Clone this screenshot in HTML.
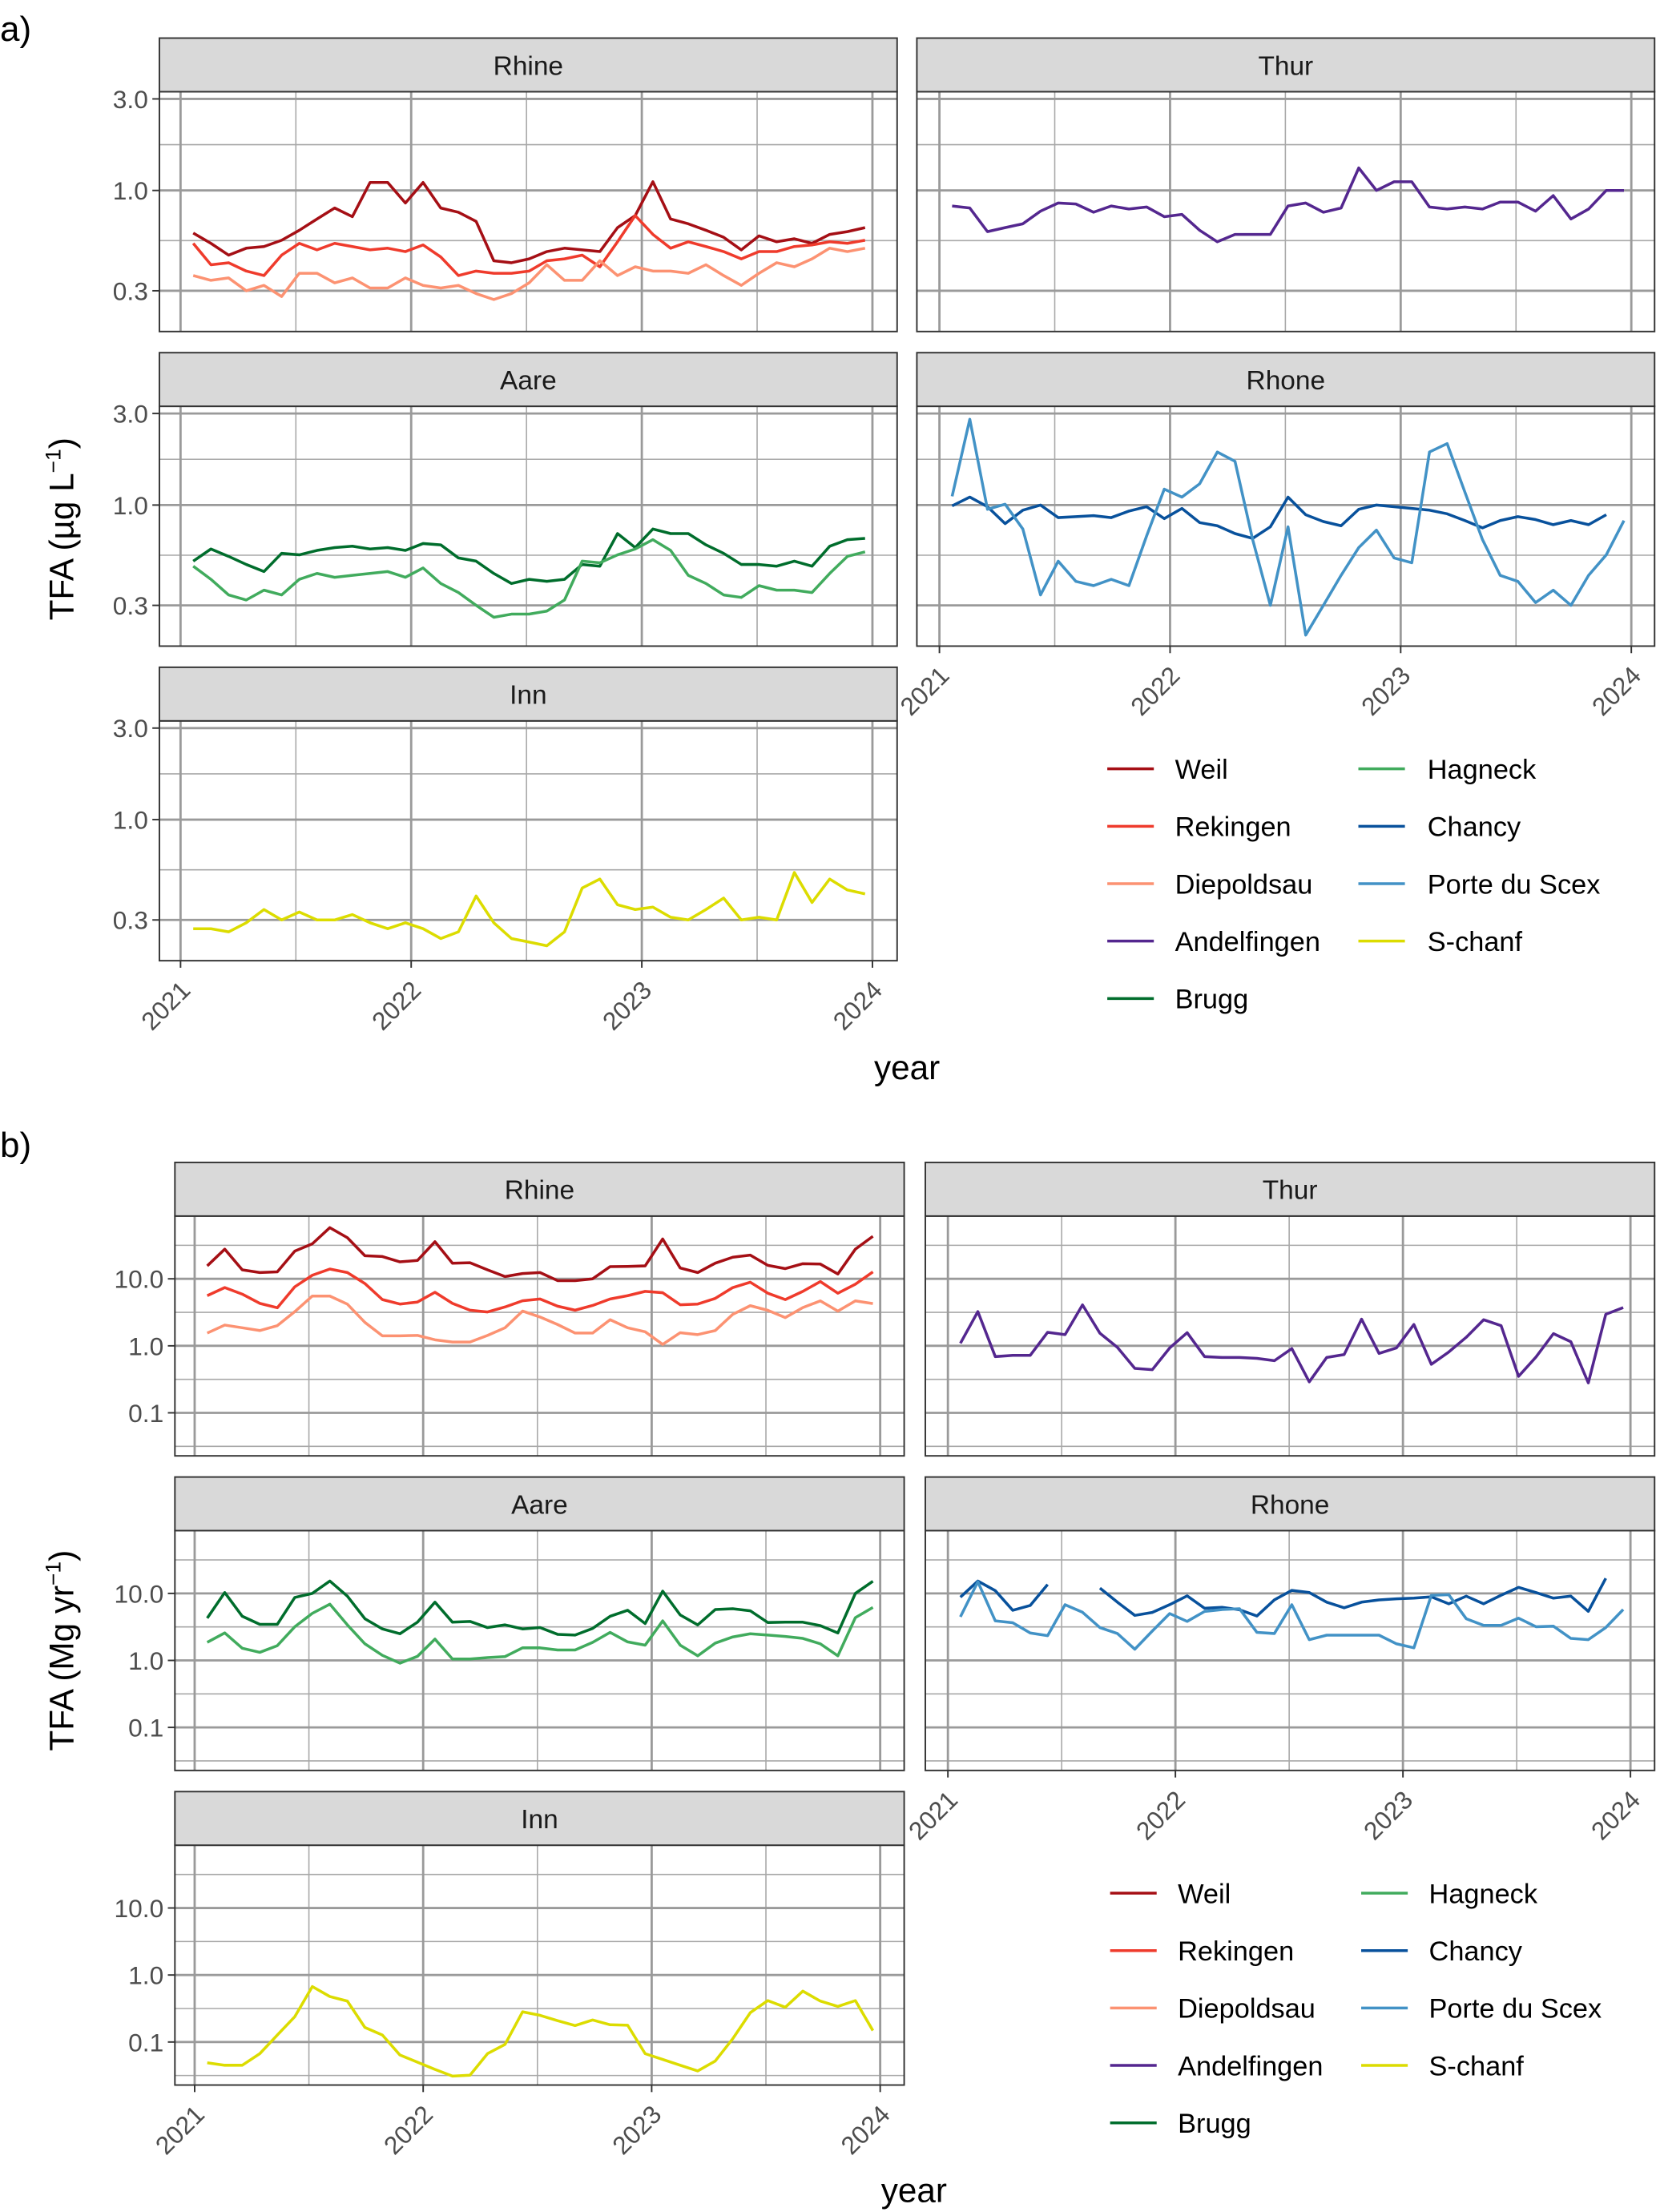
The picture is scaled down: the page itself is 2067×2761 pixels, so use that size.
<!DOCTYPE html>
<html>
<head>
<meta charset="utf-8">
<style>
html,body{margin:0;padding:0;background:#fff;}
svg{display:block;}
text{font-family:"Liberation Sans",Arial,sans-serif;}
</style>
</head>
<body>
<svg id="chart" xmlns="http://www.w3.org/2000/svg" width="2067" height="2761" viewBox="0 0 1174 1568" preserveAspectRatio="none">
<rect x="0" y="0" width="1174" height="1568" fill="#fff"/>
</svg>
<script>
// ---------- data (4-weekly samples, 39 per series) ----------
const yearTicks = [2021, 2022, 2023, 2024];
const yearLabels = ["2021", "2022", "2023", "2024"];
const concTicks = [0.3, 1, 3];
const concTickLabels = ["0.3", "1.0", "3.0"];
const loadTicks = [0.1, 1, 10];
const loadTickLabels = ["0.1", "1.0", "10.0"];

// a) concentration, µg/L
const concWeil = [0.60,0.53,0.46,0.50,0.51,0.55,0.62,0.71,0.81,0.73,1.10,1.10,0.86,1.10,0.81,0.77,0.69,0.43,0.42,0.44,0.48,0.50,0.49,0.48,0.64,0.74,1.11,0.71,0.67,0.62,0.57,0.49,0.58,0.54,0.56,0.53,0.59,0.61,0.64];
const concRekingen = [0.53,0.41,0.42,0.38,0.36,0.46,0.53,0.49,0.53,0.51,0.49,0.50,0.48,0.52,0.45,0.36,0.38,0.37,0.37,0.38,0.43,0.44,0.46,0.40,0.54,0.74,0.59,0.50,0.54,0.51,0.48,0.44,0.48,0.48,0.51,0.52,0.54,0.53,0.55];
const concDiepoldsau = [0.36,0.34,0.35,0.30,0.32,0.28,0.37,0.37,0.33,0.35,0.31,0.31,0.35,0.32,0.31,0.32,0.29,0.27,0.29,0.33,0.41,0.34,0.34,0.43,0.36,0.40,0.38,0.38,0.37,0.41,0.36,0.32,0.37,0.42,0.40,0.44,0.50,0.48,0.50];
const concAndelfingen = [0.83,0.81,0.61,0.64,0.67,0.78,0.86,0.85,0.77,0.83,0.80,0.82,0.73,0.75,0.62,0.54,0.59,0.59,0.59,0.83,0.86,0.77,0.81,1.31,1.00,1.11,1.11,0.82,0.80,0.82,0.80,0.87,0.87,0.78,0.94,0.71,0.80,1.00,1.00];
const concBrugg = [0.51,0.59,0.54,0.49,0.45,0.56,0.55,0.58,0.60,0.61,0.59,0.60,0.58,0.63,0.62,0.53,0.51,0.44,0.39,0.41,0.40,0.41,0.49,0.48,0.71,0.60,0.75,0.71,0.71,0.62,0.56,0.49,0.49,0.48,0.51,0.48,0.61,0.66,0.67];
const concHagneck = [0.48,0.41,0.34,0.32,0.36,0.34,0.41,0.44,0.42,0.43,0.44,0.45,0.42,0.47,0.39,0.35,0.30,0.26,0.27,0.27,0.28,0.32,0.51,0.50,0.55,0.59,0.66,0.58,0.43,0.39,0.34,0.33,0.38,0.36,0.36,0.35,0.44,0.54,0.57];
const concChancy = [0.99,1.10,0.98,0.80,0.94,1.00,0.86,0.87,0.88,0.86,0.93,0.98,0.85,0.96,0.81,0.78,0.71,0.67,0.77,1.10,0.89,0.82,0.78,0.95,1.00,0.98,0.96,0.94,0.90,0.83,0.76,0.83,0.87,0.84,0.79,0.83,0.79,0.89,null];
const concPorteDuScex = [1.11,2.80,0.95,1.01,0.75,0.34,0.51,0.40,0.38,0.41,0.38,0.69,1.21,1.10,1.29,1.89,1.69,0.66,0.30,0.77,0.21,0.30,0.43,0.60,0.74,0.53,0.50,1.89,2.09,1.17,0.66,0.43,0.40,0.31,0.36,0.30,0.43,0.55,0.83];
const concSchanf = [0.27,0.27,0.26,0.29,0.34,0.30,0.33,0.30,0.30,0.32,0.29,0.27,0.29,0.27,0.24,0.26,0.40,0.29,0.24,0.23,0.22,0.26,0.44,0.49,0.36,0.34,0.35,0.31,0.30,0.34,0.39,0.30,0.31,0.30,0.53,0.37,0.49,0.43,0.41];

// b) load, Mg/yr
const loadWeil = [15.6,27.7,13.6,12.4,12.7,25.9,33.3,58.0,41.1,22.1,21.5,17.9,18.8,35.8,17.1,17.4,13.6,10.8,12.0,12.4,9.4,9.4,10.0,15.2,15.3,15.6,39.3,14.5,12.4,17.1,21.0,22.6,15.9,14.2,16.8,16.6,11.8,27.7,43.1];
const loadRekingen = [5.6,7.4,5.9,4.3,3.7,7.6,11.3,14.0,12.4,8.5,4.9,4.2,4.5,6.3,4.3,3.4,3.2,3.8,4.7,5.0,3.9,3.4,4.0,5.0,5.6,6.5,6.2,4.1,4.2,5.1,7.4,8.9,6.1,4.9,6.5,9.1,6.1,8.3,12.7];
const loadDiepoldsau = [1.55,2.04,1.86,1.69,2.00,3.24,5.53,5.53,4.19,2.24,1.41,1.41,1.43,1.23,1.14,1.14,1.43,1.86,3.30,2.69,2.08,1.55,1.55,2.45,1.86,1.62,1.05,1.57,1.47,1.69,2.95,3.97,3.39,2.64,3.72,4.68,3.30,4.68,4.27];
const loadAndelfingen = [1.09,3.24,0.69,0.72,0.72,1.59,1.47,4.08,1.54,0.95,0.46,0.44,0.93,1.57,0.69,0.67,0.67,0.65,0.60,0.91,0.29,0.67,0.74,2.50,0.77,0.93,2.08,0.53,0.81,1.34,2.45,2.00,0.35,0.68,1.52,1.15,0.28,2.95,3.72];
const loadBrugg = [4.27,10.3,4.56,3.45,3.45,8.7,10.0,15.3,9.1,4.19,2.95,2.50,3.72,7.4,3.72,3.82,3.09,3.39,2.95,3.09,2.45,2.39,3.00,4.56,5.6,3.55,10.8,4.77,3.39,5.74,5.9,5.5,3.68,3.72,3.72,3.30,2.57,10.0,15.2];
const loadHagneck = [1.86,2.57,1.52,1.32,1.66,3.18,5.04,6.91,3.39,1.77,1.19,0.91,1.15,2.08,1.05,1.05,1.10,1.14,1.54,1.54,1.43,1.43,1.86,2.62,1.89,1.69,3.89,1.69,1.17,1.81,2.24,2.50,2.39,2.28,2.13,1.77,1.17,4.35,6.18];
const loadChancy = [8.8,15.3,11.0,5.6,6.6,13.6,null,null,12.0,7.4,4.7,5.2,6.8,9.2,6.0,6.2,5.7,4.6,8.0,11.1,10.3,7.4,6.1,7.4,8.0,8.3,8.5,8.9,7.0,9.1,7.0,9.4,12.3,10.3,8.5,9.1,5.4,16.8,null];
const loadPorteDuScex = [4.47,14.9,3.89,3.65,2.57,2.34,6.78,5.23,3.09,2.52,1.47,2.74,5.00,3.82,5.38,5.74,5.91,2.62,2.52,6.78,2.04,2.38,2.38,2.38,2.38,1.77,1.54,9.37,9.55,4.19,3.33,3.33,4.27,3.18,3.24,2.13,2.04,3.09,5.74];
const loadSchanf = [0.049,0.045,0.045,0.067,0.127,0.239,0.672,0.477,0.408,0.165,0.127,0.064,0.050,0.039,0.031,0.032,0.067,0.092,0.282,0.250,0.208,0.176,0.213,0.181,0.178,0.067,0.055,0.045,0.037,0.052,0.112,0.274,0.415,0.330,0.574,0.408,0.339,0.415,0.148];

// sample dates (decimal years), 28-day interval starting mid-January 2021
const sampleDates = [];
for (let i = 0; i < 39; i++) sampleDates.push(2021.055 + i * 28 / 365.25);

// ---------- styling / layout ----------
const COLORS = {Weil:"#A50F15", Rekingen:"#EF3B2C", Diepoldsau:"#FC9272", Andelfingen:"#54278F", Brugg:"#006D2C", Hagneck:"#41AB5D", Chancy:"#08519C", "Porte du Scex":"#4292C6", "S-chanf":"#DCDC00"};
const NS = "http://www.w3.org/2000/svg";
const svg = document.getElementById('chart');

function mk(tag, attrs, parent) {
  const e = document.createElementNS(NS, tag);
  for (const k in attrs) e.setAttribute(k, attrs[k]);
  (parent || svg).appendChild(e);
  return e;
}

const parts = {
  a: {
    colX: [[113, 636], [650, 1173]], x0: [128, 666], ppy: [163.5, 163.5],
    stripTop: [27, 250, 473], oneOffset: 70, ppd: 136,
    ticks: concTicks, tickLabels: concTickLabels, minor: [0.5477, 1.732],
    panels: [
      {name:"Rhine", col:0, row:0, series:[["Weil",concWeil],["Rekingen",concRekingen],["Diepoldsau",concDiepoldsau]]},
      {name:"Thur", col:1, row:0, series:[["Andelfingen",concAndelfingen]]},
      {name:"Aare", col:0, row:1, series:[["Brugg",concBrugg],["Hagneck",concHagneck]]},
      {name:"Rhone", col:1, row:1, series:[["Chancy",concChancy],["Porte du Scex",concPorteDuScex]], xlabels:true},
      {name:"Inn", col:0, row:2, series:[["S-chanf",concSchanf]], xlabels:true}
    ]
  },
  b: {
    colX: [[124, 641], [656, 1173]], x0: [138, 672], ppy: [162, 161.3],
    stripTop: [824, 1047, 1270], oneOffset: 92, ppd: 47.5,
    ticks: loadTicks, tickLabels: loadTickLabels, minor: [0.03162, 0.3162, 3.162, 31.62],
    panels: [
      {name:"Rhine", col:0, row:0, series:[["Weil",loadWeil],["Rekingen",loadRekingen],["Diepoldsau",loadDiepoldsau]]},
      {name:"Thur", col:1, row:0, series:[["Andelfingen",loadAndelfingen]]},
      {name:"Aare", col:0, row:1, series:[["Brugg",loadBrugg],["Hagneck",loadHagneck]]},
      {name:"Rhone", col:1, row:1, series:[["Chancy",loadChancy],["Porte du Scex",loadPorteDuScex]], xlabels:true},
      {name:"Inn", col:0, row:2, series:[["S-chanf",loadSchanf]], xlabels:true}
    ]
  }
};

let clipId = 0;
function drawPart(key) {
  const P = parts[key];
  P.panels.forEach(pn => {
    const [xl, xr] = P.colX[pn.col];
    const st = P.stripTop[pn.row];
    const top = st + 38, bot = top + 170;
    const xs = t => P.x0[pn.col] + P.ppy[pn.col] * (t - 2021);
    const ys = v => top + P.oneOffset - P.ppd * Math.log10(v);
    const g = mk('g', {});
    
    

    mk('rect', {x: xl, y: top, width: xr - xl, height: 170, fill: '#fff'}, g);
    P.minor.forEach(m => { const y = ys(m); if (y > top && y < bot) mk('line', {x1: xl, x2: xr, y1: y, y2: y, stroke: '#a8a8a8', 'stroke-width': 0.9}, g); });
    [2021.5, 2022.5, 2023.5].forEach(t => mk('line', {x1: xs(t), x2: xs(t), y1: top, y2: bot, stroke: '#a8a8a8', 'stroke-width': 0.9}, g));
    P.ticks.forEach(v => { const y = ys(v); mk('line', {x1: xl, x2: xr, y1: y, y2: y, stroke: '#9a9a9a', 'stroke-width': 1.6}, g); });
    yearTicks.forEach(t => mk('line', {x1: xs(t), x2: xs(t), y1: top, y2: bot, stroke: '#9a9a9a', 'stroke-width': 1.6}, g));

    const cid = 'clip' + (clipId++);
    const cp = mk('clipPath', {id: cid}, g);
    mk('rect', {x: xl, y: top, width: xr - xl, height: 170}, cp);

    pn.series.forEach(([sname, vals]) => {
      let d = '', pen = false;
      vals.forEach((v, i) => {
        if (v === null) { pen = false; return; }
        d += (pen ? 'L' : 'M') + xs(sampleDates[i]).toFixed(2) + ' ' + ys(v).toFixed(2);
        pen = true;
      });
      const p = mk('path', {d: d, fill: 'none', stroke: COLORS[sname], 'stroke-width': 2.0, 'stroke-linejoin': 'round', 'clip-path': 'url(#' + cid + ')'}, g);
      
      
    });

    mk('rect', {x: xl, y: top, width: xr - xl, height: 170, fill: 'none', stroke: '#333', 'stroke-width': 1.1}, g);
    const sr = mk('rect', {x: xl, y: st, width: xr - xl, height: 38, fill: '#d9d9d9', stroke: '#333', 'stroke-width': 1.1}, g);
    
    
    const stx = mk('text', {x: (xl + xr) / 2, y: st + 26, 'text-anchor': 'middle', 'font-size': 19, fill: '#1a1a1a'}, g);
    stx.textContent = pn.name;
    
    

    if (pn.col === 0) {
      P.ticks.forEach((v, i) => {
        const y = ys(v);
        mk('line', {x1: xl - 5, x2: xl, y1: y, y2: y, stroke: '#333', 'stroke-width': 1.1}, g);
        const t = mk('text', {x: xl - 8, y: y + 6.5, 'text-anchor': 'end', 'font-size': 18, fill: '#4d4d4d'}, g);
        t.textContent = P.tickLabels[i];
        
        
      });
    }
    if (pn.xlabels) {
      yearTicks.forEach((yr, i) => {
        const x = xs(yr);
        mk('line', {x1: x, x2: x, y1: bot, y2: bot + 5, stroke: '#333', 'stroke-width': 1.1}, g);
        const ax = x + 8, ay = bot + 22;
        const t = mk('text', {x: ax, y: ay, 'text-anchor': 'end', 'font-size': 18, fill: '#4d4d4d', transform: 'rotate(-45 ' + ax + ' ' + ay + ')'}, g);
        t.textContent = yearLabels[i];
        
        
      });
    }
  });
}
drawPart('a');
drawPart('b');

function addText(txt, x, y, size, anchor, name, extra) {
  const t = mk('text', Object.assign({x: x, y: y, 'font-size': size, 'text-anchor': anchor, fill: '#000'}, extra || {}));
  t.textContent = txt;
  
  
  return t;
}
addText('a)', 0, 29, 25, 'start', 'panel-label-a');
addText('b)', 0, 820, 25, 'start', 'panel-label-b');
addText('year', 643, 765, 24, 'middle', 'x-axis-title-a');
addText('year', 648, 1561, 24, 'middle', 'x-axis-title-b');

const ta = addText('', 52, 375, 24, 'middle', 'y-axis-title-a', {transform: 'rotate(-90 52 375)'});
ta.innerHTML = 'TFA (µg L<tspan dy="-9" font-size="15">−1</tspan><tspan dy="9">)</tspan>';
const tb = addText('', 52, 1170, 24, 'middle', 'y-axis-title-b', {transform: 'rotate(-90 52 1170)'});
tb.innerHTML = 'TFA (Mg yr<tspan dy="-9" font-size="15">−1</tspan><tspan dy="9">)</tspan>';

const legendNames = ["Weil","Rekingen","Diepoldsau","Andelfingen","Brugg","Hagneck","Chancy","Porte du Scex","S-chanf"];
function drawLegend(rows0, lx1, tx1, lx2, tx2, name) {
  const g = mk('g', {});
  
  
  legendNames.forEach((n, i) => {
    const col = i < 5 ? 0 : 1;
    const r = i < 5 ? i : i - 5;
    const y = rows0 + r * 40.7;
    const lx = col ? lx2 : lx1, tx = col ? tx2 : tx1;
    const ln = mk('line', {x1: lx, x2: lx + 33, y1: y, y2: y, stroke: COLORS[n], 'stroke-width': 2}, g);
    
    
    const t = mk('text', {x: tx, y: y + 7, 'font-size': 19.5, fill: '#000'}, g);
    t.textContent = n;
    
    
  });
}
drawLegend(545, 785, 833, 963, 1012, 'legend-a');
drawLegend(1342, 787, 835, 965, 1013, 'legend-b');
</script>
</body>
</html>
